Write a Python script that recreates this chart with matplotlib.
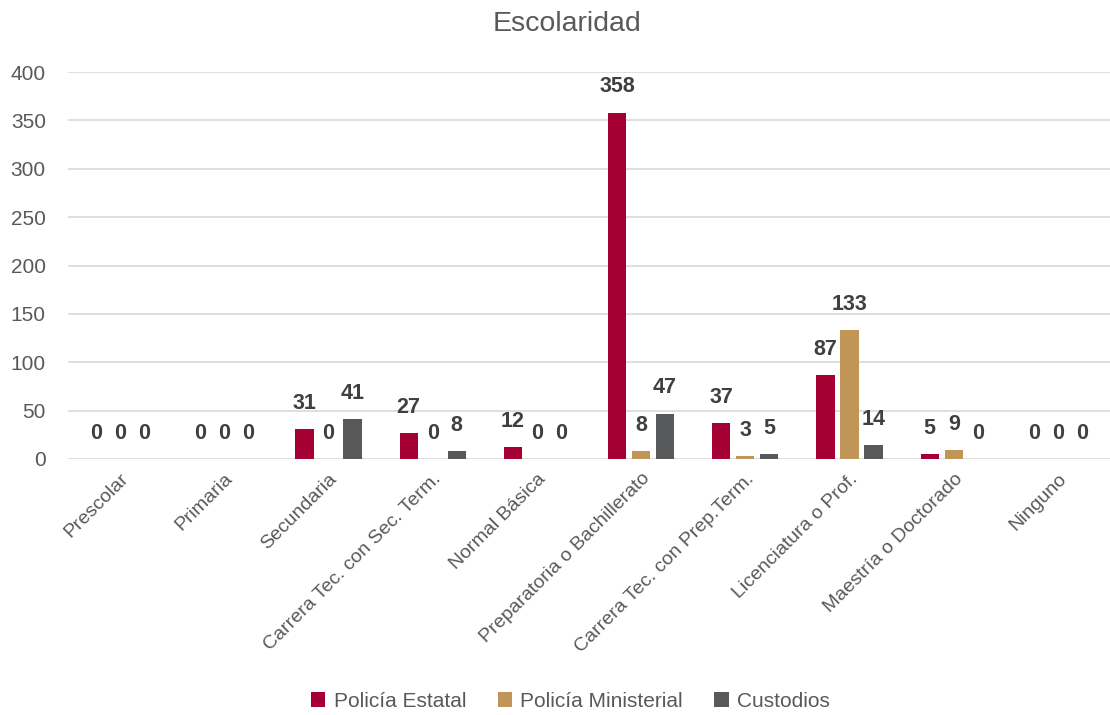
import matplotlib.pyplot as plt
import numpy as np

plt.rcParams['font.family'] = ['Liberation Sans', 'DejaVu Sans']

# Datos de la gráfica
categorias = ['Prescolar', 'Primaria', 'Secundaria', 'Carrera Tec. con Sec. Term.',
              'Normal Básica', 'Preparatoria o Bachillerato', 'Carrera Tec. con Prep.Term.',
              'Licenciatura o Prof.', 'Maestría o Doctorado', 'Ninguno']
policia_estatal = [0, 0, 31, 27, 12, 358, 37, 87, 5, 0]
policia_ministerial = [0, 0, 0, 0, 0, 8, 3, 133, 9, 0]
custodios = [0, 0, 41, 8, 0, 47, 5, 14, 0, 0]

series = [('Policía Estatal', policia_estatal, '#A50034'),
          ('Policía Ministerial', policia_ministerial, '#BF9658'),
          ('Custodios', custodios, '#58595B')]

fig = plt.figure(figsize=(11.1, 7.15), dpi=100)
ax = fig.add_axes([68 / 1110, (715 - 459) / 715, 1 - 68 / 1110, (459 - 72) / 715])

x = np.arange(len(categorias))
ancho = 0.175
paso = 0.23
for i, (nombre, valores, color) in enumerate(series):
    pos = x + (i - 1) * paso
    ax.bar(pos, valores, ancho, color=color, label=nombre, zorder=3)
    for xp, v in zip(pos, valores):
        ax.annotate(str(v), (xp, v), xytext=(0, 11), textcoords='offset points',
                    ha='center', va='bottom', fontsize=15.5, fontweight='bold',
                    color='#404040', zorder=4)

ax.set_xlim(-0.5, len(categorias) - 0.5)
ax.set_ylim(0, 400)
ax.set_yticks(range(0, 401, 50))
ax.yaxis.grid(True, color='#D9D9D9', linewidth=1.2, zorder=0)
for s in ax.spines.values():
    s.set_visible(False)
ax.tick_params(axis='y', length=0, pad=16, labelsize=15, labelcolor='#595959')
ax.tick_params(axis='x', length=0, pad=8)
ax.set_xticks(x)
ax.set_xticklabels(categorias, rotation=45, ha='right', rotation_mode='anchor',
                   fontsize=14, color='#595959')

fig.suptitle('Escolaridad', x=0.511, y=0.985, fontsize=20.5, color='#595959')
fig.legend(loc='lower center', ncol=3, frameon=False, fontsize=15,
           bbox_to_anchor=(0.514, -0.02), handlelength=0.7, handleheight=0.7,
           columnspacing=1.5, handletextpad=0.4, labelcolor='#595959')

plt.savefig('out.png', dpi=100)
plt.close()
